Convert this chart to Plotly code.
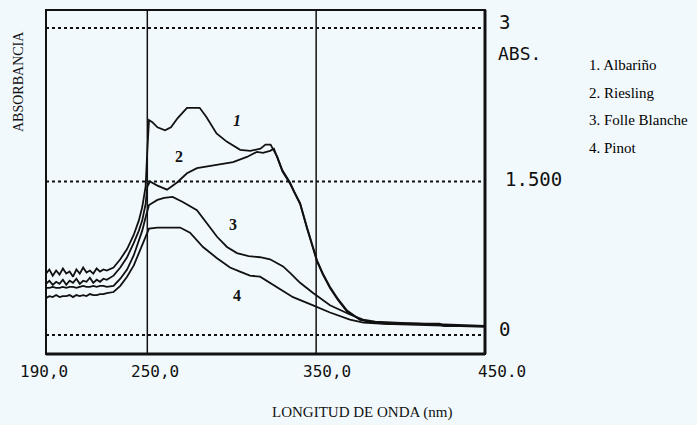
import plotly.graph_objects as go

# ---- spectra: wavelength (nm) and absorbance for each wine ----
base_nm = [190, 192, 194, 196, 198, 200, 202, 204, 206, 208, 210, 212, 214, 216, 218, 220, 222, 224, 226]

albarino_nm = base_nm + [230, 234, 238, 242, 245, 247, 249, 250, 251, 253, 256, 260.5, 264, 268, 271, 273.5, 281, 285,
                         291, 297, 305, 311, 317, 320, 323, 327, 330, 334.5, 337, 340.5, 344.6, 350.5, 354, 358.2,
                         363, 368.3, 376, 384, 395, 410, 423, 426, 450]
albarino_abs = [0.60, 0.64, 0.58, 0.63, 0.59, 0.65, 0.60, 0.62, 0.57, 0.64, 0.60, 0.66, 0.61, 0.63, 0.60, 0.65, 0.62,
                0.64, 0.63,
                0.66, 0.74, 0.84, 0.98, 1.12, 1.25, 1.45, 1.80, 2.10, 2.08, 2.03, 2.00, 2.03, 2.12, 2.18, 2.22, 2.22,
                2.13, 1.97, 1.89, 1.81, 1.80, 1.82, 1.86, 1.86, 1.74, 1.61, 1.49, 1.40, 1.29, 1.05, 0.73, 0.60, 0.47,
                0.35, 0.24, 0.15, 0.12, 0.11, 0.11, 0.11, 0.09, 0.09]

riesling_nm = base_nm + [230, 234, 238, 242, 245, 247, 249, 250, 251.6, 256, 261.7, 267.6, 273.5, 279.4, 291.3, 300.8,
                         309, 315, 318.5, 322.7, 325, 327, 330, 334.5, 337, 340.5, 344.6, 350.5, 354, 358.2, 363,
                         368.3, 376, 384, 395, 410, 423, 426, 450]
riesling_abs = [0.50, 0.53, 0.49, 0.52, 0.50, 0.54, 0.49, 0.53, 0.51, 0.55, 0.50, 0.53, 0.52, 0.56, 0.51, 0.54, 0.52,
                0.55, 0.54,
                0.58, 0.66, 0.76, 0.90, 1.02, 1.12, 1.28, 1.45, 1.50, 1.46, 1.42, 1.49, 1.58, 1.63, 1.66, 1.69, 1.74,
                1.79, 1.78, 1.80, 1.82, 1.73, 1.60, 1.48, 1.39, 1.28, 1.04, 0.72, 0.59, 0.46, 0.34, 0.23, 0.15, 0.12,
                0.11, 0.11, 0.10, 0.09, 0.09]

folle_nm = base_nm + [230, 234, 238, 242, 245, 247, 249, 251, 256, 260, 265, 271, 279.4, 285.4, 291.3, 297.2, 303.1,
                      310, 316.8, 322.7, 330.4, 335, 340.5, 348.2, 358.2, 370, 377.8, 385, 395, 410, 430, 450]
folle_abs = [0.46, 0.46, 0.47, 0.46, 0.46, 0.47, 0.46, 0.47, 0.47, 0.46, 0.47, 0.48, 0.47, 0.47, 0.48, 0.47, 0.48,
             0.48, 0.47,
             0.48, 0.55, 0.64, 0.78, 0.92, 1.02, 1.15, 1.27, 1.32, 1.34, 1.35, 1.30, 1.22, 1.09, 0.96, 0.86, 0.80,
             0.77, 0.76, 0.74, 0.67, 0.60, 0.51, 0.41, 0.29, 0.20, 0.15, 0.13, 0.12, 0.11, 0.10, 0.09]

pinot_nm = base_nm + [230, 234, 238, 242, 245, 247, 249, 251, 256, 262, 269.4, 275.3, 283, 291.3, 299, 304.9, 310.8,
                      316.8, 326.8, 336.3, 348.2, 358.2, 370, 378, 390, 410, 430, 450]
pinot_abs = [0.36, 0.38, 0.37, 0.39, 0.37, 0.38, 0.38, 0.39, 0.37, 0.39, 0.38, 0.39, 0.38, 0.40, 0.39, 0.39, 0.40,
             0.40, 0.41,
             0.42, 0.48, 0.57, 0.68, 0.80, 0.88, 0.96, 1.04, 1.05, 1.05, 1.05, 1.00, 0.86, 0.75, 0.66, 0.62, 0.58,
             0.57, 0.47, 0.37, 0.29, 0.22, 0.15, 0.12, 0.11, 0.10, 0.09, 0.08]

legend_labels = ["1. Albariño", "2. Riesling", "3. Folle Blanche", "4. Pinot"]
curve_tags = ["1", "2", "3", "4"]
# where each curve number is written (nm, absorbance)
tag_nm = [303, 269, 301, 303]
tag_abs = [2.10, 1.74, 1.08, 0.39]

x_ticks = [190, 250, 350, 450]
x_tick_text = ["190,0", "250,0", "350,0", "450.0"]
grid_abs = [0, 1.5, 3]
abs_tick_text = ["0", "1.500", "3"]

# ---- figure ----
W, H = 697, 425
ML, MR, MT, MB = 46, 212, 10, 71
PW = W - ML - MR
PH = H - MT - MB
BG = "#f2f9fd"
INK = "#111111"
MONO = "DejaVu Sans Mono"
SERIF = "Liberation Serif"


def py(pix):
    """Paper y from a pixel row of the page."""
    return (H - MB - pix) / PH


def px(pix):
    """Paper x from a pixel column of the page."""
    return (pix - ML) / PW


fig = go.Figure()
for nm, ab in [(albarino_nm, albarino_abs), (riesling_nm, riesling_abs),
               (folle_nm, folle_abs), (pinot_nm, pinot_abs)]:
    fig.add_trace(go.Scatter(x=nm, y=ab, mode="lines",
                             line=dict(color=INK, width=1.8), showlegend=False))

shapes = []
# dotted absorbance reference lines
for v in grid_abs:
    shapes.append(dict(type="line", xref="paper", yref="y", x0=0, x1=1, y0=v, y1=v,
                       line=dict(color=INK, width=2, dash="dot")))
# solid wavelength markers
for v in x_ticks[1:3]:
    shapes.append(dict(type="line", xref="x", yref="paper", x0=v, x1=v, y0=0, y1=1,
                       line=dict(color=INK, width=1.5)))
# frame
shapes.append(dict(type="rect", xref="paper", yref="paper", x0=0, x1=1, y0=0, y1=1,
                   line=dict(color=INK, width=2)))
shapes.append(dict(type="line", xref="paper", yref="paper", x0=0, x1=1, y0=0, y1=0,
                   line=dict(color=INK, width=3)))
shapes.append(dict(type="line", xref="paper", yref="paper", x0=1, x1=1, y0=0, y1=1,
                   line=dict(color=INK, width=3)))

ann = []
# wavelength tick labels
x_shift = [-2, 8, 11, 17]
for v, t, s in zip(x_ticks, x_tick_text, x_shift):
    ann.append(dict(x=v, y=py(371), xref="x", yref="paper", text=t, showarrow=False,
                    xanchor="center", yanchor="middle", xshift=s,
                    font=dict(family=MONO, size=16, color=INK)))
# absorbance labels on the right edge
abs_shift = [(12, 6), (18, 3), (12, 6)]
for v, t, (sx, sy) in zip(grid_abs, abs_tick_text, abs_shift):
    ann.append(dict(x=1, y=v, xref="paper", yref="y", text=t, showarrow=False,
                    xanchor="left", yanchor="middle", xshift=sx, yshift=sy,
                    font=dict(family=MONO, size=19, color=INK)))
ann.append(dict(x=1, y=3, xref="paper", yref="y", text="ABS.", showarrow=False,
                xanchor="left", yanchor="middle", xshift=11, yshift=-25,
                font=dict(family=MONO, size=18, color=INK)))
# legend list
for i, t in enumerate(legend_labels):
    ann.append(dict(x=1, y=py(65 + 27.5 * i), xref="paper", yref="paper", text=t, showarrow=False,
                    xanchor="left", yanchor="middle", xshift=102,
                    font=dict(family=SERIF, size=15, color="#000000")))
# curve numbers
for t, xv, yv in zip(curve_tags, tag_nm, tag_abs):
    txt = "<i><b>%s</b></i>" % t if t == "1" else "<b>%s</b>" % t
    ann.append(dict(x=xv, y=yv, xref="x", yref="y", text=txt, showarrow=False,
                    font=dict(family=SERIF, size=16, color=INK)))
# axis titles
ann.append(dict(x=px(18), y=py(82), xref="paper", yref="paper", text="ABSORBANCIA", showarrow=False,
                textangle=-90, xanchor="center", yanchor="middle",
                font=dict(family=SERIF, size=14, color=INK)))
ann.append(dict(x=px(362), y=py(412), xref="paper", yref="paper",
                text="LONGITUD DE ONDA (nm)", showarrow=False, xanchor="center", yanchor="middle",
                font=dict(family=SERIF, size=15, color=INK)))

y_lo = -(H - MB - 335) * 3 / 307
y_hi = 3 + (335 - 307 - MT) * 3 / 307

fig.update_layout(
    width=W, height=H,
    margin=dict(l=ML, r=MR, t=MT, b=MB),
    paper_bgcolor=BG, plot_bgcolor=BG,
    xaxis=dict(range=[190, 450], showgrid=False, zeroline=False, showticklabels=False, ticks=""),
    yaxis=dict(range=[y_lo, y_hi], showgrid=False, zeroline=False, showticklabels=False, ticks=""),
    shapes=shapes, annotations=ann, showlegend=False,
)

fig.write_html("out.html")
